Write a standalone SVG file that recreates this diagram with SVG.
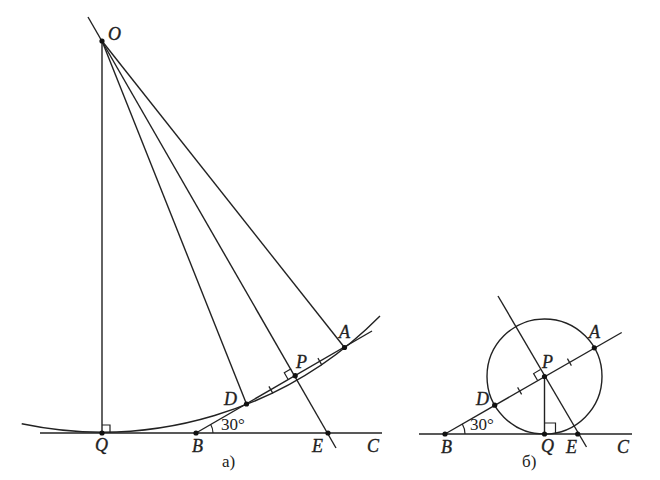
<svg xmlns="http://www.w3.org/2000/svg" width="660" height="480" viewBox="0 0 660 480">
<style>
.ln{stroke:#222;stroke-width:1.4;fill:none}
.th{stroke:#222;stroke-width:1.2;fill:none}
.dot{fill:#111}
.lb{font-family:"Liberation Serif",serif;font-style:italic;font-size:18px;fill:#222;stroke:#222;stroke-width:0.35}
.ang{font-family:"Liberation Serif",serif;font-size:17px;fill:#222}
.cap{font-family:"Liberation Serif",serif;font-size:17px;fill:#222}
</style>
<rect width="660" height="480" fill="#fff"/>
<g id="connectors">
  <line class="ln" x1="40" y1="433" x2="382" y2="433"/>
  <line class="ln" x1="102" y1="41" x2="102" y2="433"/>
  <line class="ln" x1="88" y1="17" x2="336" y2="448"/>
  <line class="ln" x1="102" y1="41" x2="246.5" y2="404"/>
  <line class="ln" x1="102" y1="41" x2="344.5" y2="347.5"/>
  <line class="ln" x1="196" y1="433" x2="372" y2="331"/>
  <path class="ln" d="M21.7 423.7 A391 391 0 0 0 380 316"/>
  <path class="th" d="M213 433 A17 17 0 0 0 210.7 424.5"/>
  <polyline class="th" points="102,425 110,425 110,433"/>
  <polyline class="th" points="291.2,368.8 284.3,372.8 288.3,379.7"/>
  <line class="th" x1="268.9" y1="386.4" x2="272.9" y2="393.4"/>
  <line class="th" x1="317.9" y1="358.1" x2="321.9" y2="365.1"/>
  <line class="ln" x1="419" y1="434" x2="632" y2="434"/>
  <circle class="ln" cx="544.5" cy="376.5" r="57.5"/>
  <line class="ln" x1="445" y1="434" x2="621.7" y2="332.5"/>
  <line class="ln" x1="498" y1="296" x2="586.5" y2="447"/>
  <line class="ln" x1="544.5" y1="376.5" x2="544.5" y2="434"/>
  <path class="th" d="M465 434 A20 20 0 0 0 462.3 424"/>
  <polyline class="th" points="544.5,423 555.5,423 555.5,434"/>
  <polyline class="th" points="540.5,369.6 533.6,373.6 537.6,380.5"/>
  <line class="th" x1="517.6" y1="387.4" x2="521.6" y2="394.4"/>
  <line class="th" x1="567.4" y1="358.6" x2="571.4" y2="365.6"/>
</g>
<g id="node-O"><circle class="dot" cx="102" cy="41" r="2.6"/><text class="lb" x="108" y="40">O</text></g>
<g id="node-Q-a"><circle class="dot" cx="102" cy="433" r="2.6"/><text class="lb" x="95" y="451">Q</text></g>
<g id="node-B-a"><circle class="dot" cx="196" cy="433" r="2.6"/><text class="lb" x="192" y="452">B</text><text class="ang" x="221" y="430">30°</text></g>
<g id="node-D-a"><circle class="dot" cx="246.5" cy="404" r="2.6"/><text class="lb" x="224" y="405">D</text></g>
<g id="node-P-a"><circle class="dot" cx="295.2" cy="375.7" r="2.6"/><text class="lb" x="296" y="368">P</text></g>
<g id="node-A-a"><circle class="dot" cx="344.5" cy="347.5" r="2.6"/><text class="lb" x="339" y="338">A</text></g>
<g id="node-E-a"><circle class="dot" cx="328" cy="433" r="2.6"/><text class="lb" x="312" y="452">E</text></g>
<g id="node-C-a"><text class="lb" x="367" y="452">C</text></g>
<g id="label-a"><text class="cap" x="222" y="467">а)</text></g>
<g id="node-B-b"><circle class="dot" cx="445" cy="434" r="2.6"/><text class="lb" x="441" y="453">B</text><text class="ang" x="470" y="430">30°</text></g>
<g id="node-D-b"><circle class="dot" cx="494.7" cy="405.2" r="2.6"/><text class="lb" x="476" y="405">D</text></g>
<g id="node-P-b"><circle class="dot" cx="544.5" cy="376.5" r="2.6"/><text class="lb" x="542" y="368">P</text></g>
<g id="node-A-b"><circle class="dot" cx="594.3" cy="347.8" r="2.6"/><text class="lb" x="589" y="338">A</text></g>
<g id="node-Q-b"><circle class="dot" cx="544.5" cy="434" r="2.6"/><text class="lb" x="541" y="452">Q</text></g>
<g id="node-E-b"><circle class="dot" cx="577.7" cy="434" r="2.6"/><text class="lb" x="566" y="453">E</text></g>
<g id="node-C-b"><text class="lb" x="617" y="453">C</text></g>
<g id="label-b"><text class="cap" x="522" y="467">б)</text></g>
</svg>
